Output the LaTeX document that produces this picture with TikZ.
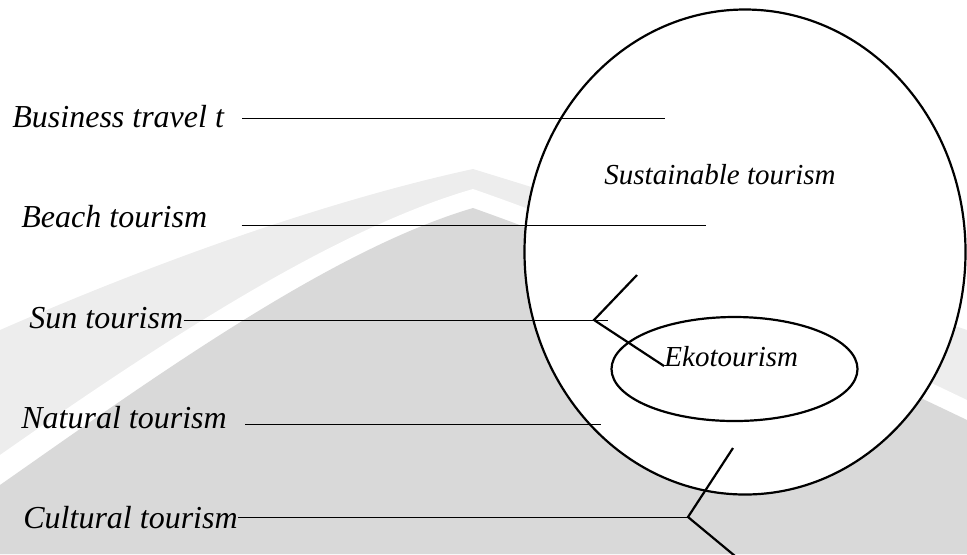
\documentclass[tikz,border=0pt]{standalone}
\usepackage{fontspec}
\setmainfont{Liberation Serif}
\usetikzlibrary{calc,positioning,shapes.geometric}
\tikzset{
	x=0.5pt, y=-0.5pt, line width=1.3pt,
	tag/.style = {anchor=base west, inner sep=0pt, font=\fontsize{16}{19}\selectfont\itshape},
	settag/.style = {anchor=base west, inner sep=0pt, font=\fontsize{14.5}{17}\selectfont\itshape},
	set/.style = {ellipse, draw, fill=white, line width=1.1pt, inner sep=0pt},
	branch/.style = {line width=1.1pt}
}

\begin{document}
\begin{tikzpicture}
		\useasboundingbox (0,0) rectangle (967,554);
		\clip (0,0) rectangle (967,554);
		
		% grey backdrop
		\fill[black!7] (0,330) .. controls (160,260) and (330,200) .. (473,169) .. controls (640,220) and (820,280) .. (967,330) -- (967,554) -- (0,554) -- cycle;
		\fill[white] (0,455) .. controls (150,350) and (330,230) .. (473,189) .. controls (620,240) and (800,320) .. (967,400) -- (967,554) -- (0,554) -- cycle;
		\fill[black!15] (0,485) .. controls (150,380) and (330,250) .. (473,208) .. controls (620,260) and (800,340) .. (967,420) -- (967,554) -- (0,554) -- cycle;
		
		% Sets
		\node[set, minimum width=220.5pt, minimum height=242.5pt] (sust) at (745,252) {};
		\node[set, minimum width=123pt, minimum height=52pt] (eko) at (734.5,369) {};
		
		\node[tag] (bus) at (12,127) {Business travel t};
		\node[tag] (beach) at (21,227) {Beach tourism};
		\node[tag] (sun) at (29,328) {Sun tourism};
		\node[tag] (nat) at (21,428) {Natural tourism};
		\node[tag] (cult) at (23,528) {Cultural tourism};
		\node[settag] (sustlbl) at (604,184) {Sustainable tourism};
		\node[settag] (ekolbl) at (664,366) {Ekotourism};
		
		\coordinate (busB) at (665,118);
		\coordinate (beachB) at (706,225);
		\coordinate (sunJ) at (594,320);
		\coordinate (sunB) at (608,320);
		\coordinate (sunUp) at (637,275);
		\coordinate (natB) at (601,424);
		\coordinate (cultJ) at (688,517);
		\coordinate (cultUp) at (733,448);
		\coordinate (cultDn) at (735,556);
		
		% Lines into the sets
		\draw ([xshift=9pt]bus.east |- busB) -- (busB);
		\draw ([xshift=17pt]beach.east |- beachB) -- (beachB);
		\draw (sun.east |- sunB) -- (sunB);
		\draw[branch] (sunUp) -- (sunJ) -- (ekolbl.base west);
		\draw ([xshift=9pt]nat.east |- natB) -- (natB);
		\draw (cult.east |- cultJ) -- (cultJ);
		\draw[branch] (cultUp) -- (cultJ) -- (cultDn);
\end{tikzpicture}
\end{document}
